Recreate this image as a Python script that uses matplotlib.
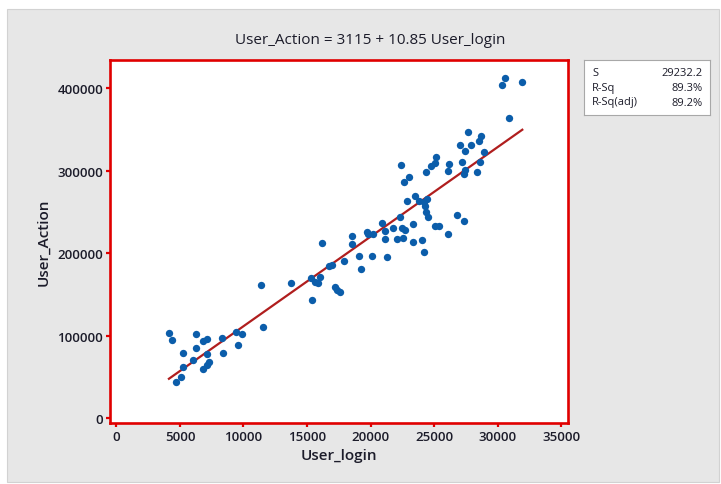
import numpy as np
import matplotlib.pyplot as plt
from matplotlib.patches import Rectangle

plt.rcParams['font.family'] = ['Open Sans', 'DejaVu Sans']

# data (User_login vs User_Action)
user_login = [4130, 4350, 4650, 5100, 5260, 5260, 6050, 6240, 6240, 6830,
              7150, 7100, 6830, 7090, 7310, 8330, 8410, 9410, 9920, 9530,
              11380, 11540, 13740, 15430, 15350, 15630, 15830, 16020, 16160, 16770,
              16950, 17200, 17400, 17600, 17930, 18540, 18540, 19120, 19250, 19700,
              19840, 20170, 20080, 20910, 21140, 21140, 21320, 21770, 22060, 22360,
              22460, 22680, 22580, 22900, 23320, 23370, 23480, 23830, 24030, 24210,
              24430, 24330, 24370, 24550, 24240, 25080, 25370, 26080, 26790, 27380,
              22430, 22650, 23060, 24390, 24790, 25050, 25120, 26160, 26080, 27180,
              27460, 27390, 27070, 27440, 27650, 27890, 28580, 28690, 28940, 28620,
              28360, 30590, 30380, 31950, 30910]
user_action = [102800, 95300, 44600, 49700, 78800, 61800, 71000, 102200, 85600, 94300,
               96700, 78500, 59800, 64000, 68600, 97900, 79200, 105000, 101600, 88500,
               161900, 110100, 163600, 143000, 169700, 164800, 164000, 170700, 212500, 185000,
               185500, 158800, 155800, 153500, 190300, 221300, 210700, 196400, 181000, 225500,
               222800, 223400, 197100, 237100, 227400, 217300, 195200, 230300, 217700, 243600,
               230400, 228800, 218200, 262800, 235500, 213700, 269700, 263800, 216100, 262200,
               266400, 257700, 249700, 243600, 201200, 233100, 233100, 223400, 246700, 239100,
               307000, 286400, 292800, 298500, 305500, 309800, 316400, 308600, 299400, 311000,
               301000, 296100, 331500, 324400, 346800, 331500, 336500, 342500, 322200, 311000,
               298900, 412100, 404400, 407300, 363800]

intercept = 3115
slope = 10.85
stat_names = ['S', 'R-Sq', 'R-Sq(adj)']
stat_vals = ['29232.2', '89.3%', '89.2%']

xticks = [0, 5000, 10000, 15000, 20000, 25000, 30000, 35000]
yticks = [0, 100000, 200000, 300000, 400000]

W, H = 721, 485
fig = plt.figure(figsize=(W / 100, H / 100), dpi=100)
fig.patch.set_facecolor('white')
fig.add_artist(Rectangle((7 / W, 1 - 483 / H), 712 / W, 473 / H, transform=fig.transFigure,
                         facecolor='#E7E7E7', edgecolor='#D2D2D2', lw=0.8, zorder=0))

red = '#E00000'
txt = '#1C1C2A'
ax = fig.add_axes([110 / W, 1 - 424 / H, 457.5 / W, 363 / H])
ax.set_facecolor('white')
ax.scatter(user_login, user_action, s=28, color='#0B5DAA', marker='o', linewidths=0, zorder=3)

xs = np.array([min(user_login), max(user_login)])
ax.plot(xs, intercept + slope * xs, color='#B01E1E', lw=1.6, zorder=2)

ax.set_xlim(-510, 35510)
ax.set_ylim(-5700, 434300)
ax.set_xticks(xticks)
ax.set_yticks(yticks)
ax.set_xticklabels([str(t) for t in xticks], fontweight='semibold')
ax.set_yticklabels([str(t) for t in yticks], fontweight='semibold')
for s in ax.spines.values():
    s.set_color(red)
    s.set_linewidth(1.9)
ax.tick_params(colors=red, length=3, width=1.6, labelcolor=txt, labelsize=9.5, pad=2)

ax.set_xlabel('User_login', fontsize=11, color=txt, fontweight='semibold', labelpad=4)
ax.set_ylabel('User_Action', fontsize=11, color=txt, fontweight='semibold', labelpad=5)
fig.text(370 / W, 1 - 40 / H, 'User_Action = 3115 + 10.85 User_login', ha='center', va='center',
         fontsize=11, color=txt)

# statistics box
bx = fig.add_axes([584 / W, 1 - 116 / H, 126 / W, 55 / H])
bx.set_facecolor('white')
bx.set_xticks([])
bx.set_yticks([])
for s in bx.spines.values():
    s.set_color('#A8A8A8')
    s.set_linewidth(0.8)
for i, (n, v) in enumerate(zip(stat_names, stat_vals)):
    yy = 1 - (13 + 14.5 * i) / 55
    bx.text(8 / 126, yy, n, transform=bx.transAxes, ha='left', va='center', fontsize=8, color=txt)
    bx.text(119 / 126, yy, v, transform=bx.transAxes, ha='right', va='center', fontsize=8, color=txt)

fig.savefig('out.png', dpi=100)
